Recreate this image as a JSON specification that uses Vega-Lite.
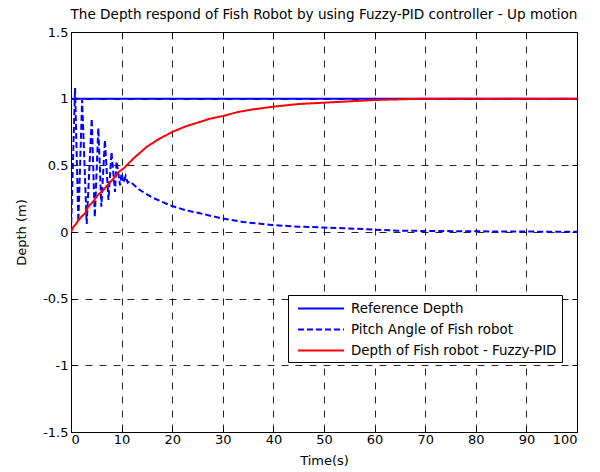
{
  "$schema": "https://vega.github.io/schema/vega-lite/v6.json",
  "width": 506,
  "height": 400,
  "autosize": {"type": "none"},
  "padding": {"left": 71, "top": 32, "right": 23, "bottom": 40},
  "background": "white",
  "title": {"text": "The Depth respond of Fish Robot by using Fuzzy-PID controller - Up motion", "font": "DejaVu Sans", "fontSize": 13.6, "fontWeight": "normal", "color": "black", "anchor": "middle", "offset": 4},
  "config": {
    "font": "DejaVu Sans",
    "view": {"stroke": "black", "strokeWidth": 1},
    "axis": {
      "labelFont": "DejaVu Sans", "labelFontSize": 13, "labelColor": "black",
      "titleFont": "DejaVu Sans", "titleFontSize": 13, "titleFontWeight": "normal", "titleColor": "black",
      "domainColor": "black", "tickColor": "black", "tickSize": -5, "labelPadding": 6,
      "gridColor": "black", "gridDash": [7, 7], "gridWidth": 1, "gridOpacity": 0.85
    },
    "legend": {
      "labelFont": "DejaVu Sans", "labelFontSize": 13.4, "labelColor": "black", "labelLimit": 400,
      "strokeColor": "black", "fillColor": "white", "padding": 5
    }
  },
  "data": {"values": [
    {"t": 0, "v": 1, "s": "Reference Depth"},
    {"t": 100, "v": 1, "s": "Reference Depth"},
    {"t": 0, "v": 0, "s": "Pitch Angle of Fish robot"},
    {"t": 0.8, "v": 1.08, "s": "Pitch Angle of Fish robot"},
    {"t": 1.45, "v": 0.08, "s": "Pitch Angle of Fish robot"},
    {"t": 2.2, "v": 0.99, "s": "Pitch Angle of Fish robot"},
    {"t": 3.1, "v": 0.06, "s": "Pitch Angle of Fish robot"},
    {"t": 4.1, "v": 0.85, "s": "Pitch Angle of Fish robot"},
    {"t": 4.7, "v": 0.11, "s": "Pitch Angle of Fish robot"},
    {"t": 5.4, "v": 0.78, "s": "Pitch Angle of Fish robot"},
    {"t": 6.0, "v": 0.19, "s": "Pitch Angle of Fish robot"},
    {"t": 6.7, "v": 0.69, "s": "Pitch Angle of Fish robot"},
    {"t": 7.4, "v": 0.24, "s": "Pitch Angle of Fish robot"},
    {"t": 8.0, "v": 0.60, "s": "Pitch Angle of Fish robot"},
    {"t": 8.7, "v": 0.30, "s": "Pitch Angle of Fish robot"},
    {"t": 9.0, "v": 0.53, "s": "Pitch Angle of Fish robot"},
    {"t": 9.7, "v": 0.35, "s": "Pitch Angle of Fish robot"},
    {"t": 10.0, "v": 0.44, "s": "Pitch Angle of Fish robot"},
    {"t": 10.4, "v": 0.37, "s": "Pitch Angle of Fish robot"},
    {"t": 10.8, "v": 0.42, "s": "Pitch Angle of Fish robot"},
    {"t": 11.2, "v": 0.37, "s": "Pitch Angle of Fish robot"},
    {"t": 11.6, "v": 0.38, "s": "Pitch Angle of Fish robot"},
    {"t": 13.6, "v": 0.315, "s": "Pitch Angle of Fish robot"},
    {"t": 16, "v": 0.26, "s": "Pitch Angle of Fish robot"},
    {"t": 19.6, "v": 0.20, "s": "Pitch Angle of Fish robot"},
    {"t": 22.5, "v": 0.165, "s": "Pitch Angle of Fish robot"},
    {"t": 25.5, "v": 0.14, "s": "Pitch Angle of Fish robot"},
    {"t": 29.7, "v": 0.103, "s": "Pitch Angle of Fish robot"},
    {"t": 34, "v": 0.075, "s": "Pitch Angle of Fish robot"},
    {"t": 39.6, "v": 0.053, "s": "Pitch Angle of Fish robot"},
    {"t": 45, "v": 0.04, "s": "Pitch Angle of Fish robot"},
    {"t": 49, "v": 0.035, "s": "Pitch Angle of Fish robot"},
    {"t": 54, "v": 0.028, "s": "Pitch Angle of Fish robot"},
    {"t": 60, "v": 0.018, "s": "Pitch Angle of Fish robot"},
    {"t": 64.4, "v": 0.01, "s": "Pitch Angle of Fish robot"},
    {"t": 70, "v": 0.008, "s": "Pitch Angle of Fish robot"},
    {"t": 80, "v": 0.005, "s": "Pitch Angle of Fish robot"},
    {"t": 90, "v": 0.003, "s": "Pitch Angle of Fish robot"},
    {"t": 100, "v": 0.002, "s": "Pitch Angle of Fish robot"},
    {"t": 0, "v": 0, "s": "Depth of Fish robot - Fuzzy-PID"},
    {"t": 0.5, "v": 0.04, "s": "Depth of Fish robot - Fuzzy-PID"},
    {"t": 1, "v": 0.06, "s": "Depth of Fish robot - Fuzzy-PID"},
    {"t": 1.5, "v": 0.09, "s": "Depth of Fish robot - Fuzzy-PID"},
    {"t": 2.2, "v": 0.12, "s": "Depth of Fish robot - Fuzzy-PID"},
    {"t": 2.8, "v": 0.14, "s": "Depth of Fish robot - Fuzzy-PID"},
    {"t": 3.4, "v": 0.19, "s": "Depth of Fish robot - Fuzzy-PID"},
    {"t": 4.2, "v": 0.22, "s": "Depth of Fish robot - Fuzzy-PID"},
    {"t": 5.4, "v": 0.28, "s": "Depth of Fish robot - Fuzzy-PID"},
    {"t": 6.3, "v": 0.31, "s": "Depth of Fish robot - Fuzzy-PID"},
    {"t": 7.4, "v": 0.36, "s": "Depth of Fish robot - Fuzzy-PID"},
    {"t": 8.4, "v": 0.40, "s": "Depth of Fish robot - Fuzzy-PID"},
    {"t": 9.4, "v": 0.45, "s": "Depth of Fish robot - Fuzzy-PID"},
    {"t": 10.5, "v": 0.48, "s": "Depth of Fish robot - Fuzzy-PID"},
    {"t": 12.3, "v": 0.55, "s": "Depth of Fish robot - Fuzzy-PID"},
    {"t": 15, "v": 0.64, "s": "Depth of Fish robot - Fuzzy-PID"},
    {"t": 17.5, "v": 0.70, "s": "Depth of Fish robot - Fuzzy-PID"},
    {"t": 20, "v": 0.75, "s": "Depth of Fish robot - Fuzzy-PID"},
    {"t": 22.5, "v": 0.79, "s": "Depth of Fish robot - Fuzzy-PID"},
    {"t": 25, "v": 0.82, "s": "Depth of Fish robot - Fuzzy-PID"},
    {"t": 27.5, "v": 0.85, "s": "Depth of Fish robot - Fuzzy-PID"},
    {"t": 30, "v": 0.87, "s": "Depth of Fish robot - Fuzzy-PID"},
    {"t": 33, "v": 0.90, "s": "Depth of Fish robot - Fuzzy-PID"},
    {"t": 36, "v": 0.92, "s": "Depth of Fish robot - Fuzzy-PID"},
    {"t": 40, "v": 0.94, "s": "Depth of Fish robot - Fuzzy-PID"},
    {"t": 45, "v": 0.96, "s": "Depth of Fish robot - Fuzzy-PID"},
    {"t": 50, "v": 0.97, "s": "Depth of Fish robot - Fuzzy-PID"},
    {"t": 55, "v": 0.98, "s": "Depth of Fish robot - Fuzzy-PID"},
    {"t": 60, "v": 0.99, "s": "Depth of Fish robot - Fuzzy-PID"},
    {"t": 65, "v": 0.995, "s": "Depth of Fish robot - Fuzzy-PID"},
    {"t": 70, "v": 1.0, "s": "Depth of Fish robot - Fuzzy-PID"},
    {"t": 100, "v": 1.0, "s": "Depth of Fish robot - Fuzzy-PID"}
  ]},
  "layer": [
    {
      "mark": {"type": "line", "strokeWidth": 2, "clip": true},
      "encoding": {
        "x": {"field": "t", "type": "quantitative", "scale": {"domain": [0, 100], "nice": false, "zero": false},
              "axis": {"values": [0, 10, 20, 30, 40, 50, 60, 70, 80, 90, 100], "title": "Time(s)", "grid": true, "titlePadding": 8}},
        "y": {"field": "v", "type": "quantitative", "scale": {"domain": [-1.5, 1.5], "nice": false},
              "axis": {"values": [-1.5, -1, -0.5, 0, 0.5, 1, 1.5], "title": "Depth (m)", "grid": true, "titlePadding": 14, "labelPadding": 8,
                       "labelExpr": "datum.value < 0 ? '-' + format(-datum.value, '') : format(datum.value, '')"}},
        "color": {"field": "s", "type": "nominal",
                  "scale": {"domain": ["Reference Depth", "Pitch Angle of Fish robot", "Depth of Fish robot - Fuzzy-PID"], "range": ["#0000ff", "#0000ff", "#ff0000"]},
                  "legend": {"title": null, "orient": "none", "legendX": 217, "legendY": 263, "symbolType": "M -3.07 0 H 3.07", "symbolSize": 225, "symbolStrokeWidth": 2, "labelOffset": 21.5, "symbolOffset": 19.5, "rowPadding": 6}},
        "strokeDash": {"field": "s", "type": "nominal",
                  "scale": {"domain": ["Reference Depth", "Pitch Angle of Fish robot", "Depth of Fish robot - Fuzzy-PID"], "range": [[1, 0], [6, 3], [1, 0]]},
                  "legend": {"title": null, "orient": "none", "legendX": 217, "legendY": 263, "symbolType": "M -3.07 0 H 3.07", "symbolSize": 225, "symbolStrokeWidth": 2, "labelOffset": 21.5, "symbolOffset": 19.5, "rowPadding": 6}}
      }
    },
    {
      "mark": {"type": "line", "opacity": 0},
      "encoding": {
        "x": {"field": "t", "type": "quantitative", "scale": {"domain": [0, 100], "nice": false, "zero": false},
              "axis": {"orient": "top", "values": [0, 10, 20, 30, 40, 50, 60, 70, 80, 90, 100], "labels": false, "title": null, "grid": false, "domain": false}},
        "y": {"field": "v", "type": "quantitative", "scale": {"domain": [-1.5, 1.5], "nice": false},
              "axis": {"orient": "right", "values": [-1.5, -1, -0.5, 0, 0.5, 1, 1.5], "labels": false, "title": null, "grid": false, "domain": false}},
        "detail": {"field": "s"}
      }
    }
  ],
  "resolve": {"axis": {"x": "independent", "y": "independent"}}
}
